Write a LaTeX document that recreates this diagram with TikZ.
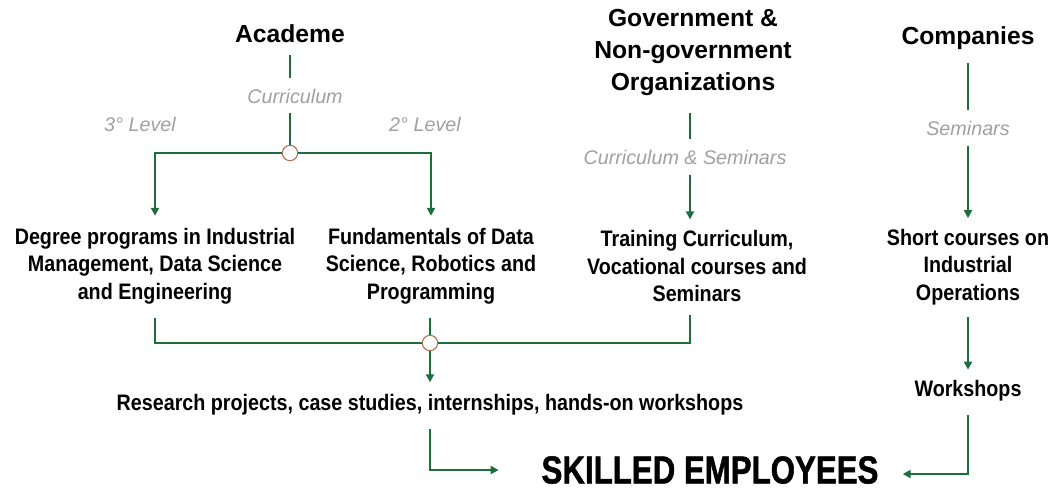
\documentclass[tikz,border=0pt]{standalone}
\usepackage{fontspec}
\setmainfont{Liberation Sans}
\newfontfamily\bodyfont[FakeStretch=0.88]{Liberation Sans}
\newfontfamily\bigfont[FakeStretch=0.8,FakeBold=1.2]{Liberation Sans}
\usetikzlibrary{arrows.meta}

\definecolor{flowgreen}{RGB}{28,110,60}
\definecolor{labelgray}{RGB}{160,160,160}
\definecolor{ringbrown}{RGB}{176,112,84}

\tikzset{
  x=0.75pt, y=-0.75pt,
  head/.style={font=\fontsize{18.5}{24}\selectfont\bfseries, align=center, inner sep=0pt},
  item/.style={font=\bodyfont\fontsize{16.8}{20.6}\selectfont\bfseries, align=center, inner sep=0pt},
  tag/.style={font=\fontsize{14.8}{16}\selectfont\itshape, text=labelgray, inner sep=0pt},
  link/.style={draw=flowgreen, line width=1.8pt},
  arr/.style={link, -{Triangle[length=6pt,width=6pt]}},
  joint/.style={circle, draw=ringbrown, fill=white, line width=0.8pt, minimum size=11.5pt, inner sep=0pt},
}

\begin{document}
\begin{tikzpicture}
\useasboundingbox (0,0) rectangle (1050,490);

% sources
\node[head] (acad) at (290,34) {Academe};
\node[head] (gov) at (693,52) {Government \&\\Non-government\\Organizations};
\node[head] (comp) at (968,38) {Companies};

% channel labels
\node[tag] (curr) at (295,96) {Curriculum};
\node[tag] (lvl3) at (140,124) {3° Level};
\node[tag] (lvl2) at (425,124) {2° Level};
\node[tag] (cursem) at (685,157) {Curriculum \& Seminars};
\node[tag] (sem) at (968,128) {Seminars};

% junctions
\node[joint] (j1) at (290,153) {};
\node[joint] (j2) at (430,343) {};

% programmes
\node[item] (deg) at (155,266) {Degree programs in Industrial\\Management, Data Science\\and Engineering};
\node[item] (fund) at (431,266) {Fundamentals of Data\\Science, Robotics and\\Programming};
\node[item] (train) at (697,266) {Training Curriculum,\\Vocational courses and\\Seminars};
\node[item] (short) at (968,267) {Short courses on\\Industrial\\Operations};
\node[item] (res) at (430,405) {Research projects, case studies, internships, hands-on workshops};
\node[item] (work) at (968,391) {Workshops};
\node[font=\bigfont\fontsize{29.3}{32}\selectfont\bfseries, inner sep=0pt] (skill) at (710,470) {SKILLED EMPLOYEES};

% academe branch
\draw[link, shorten <=9pt, shorten >=8pt] (acad.south) -- (acad.south |- curr.north);
\draw[link, shorten <=7pt] (j1 |- curr.south) -- (j1.north);
\draw[arr, shorten >=9pt] (j1.west) -| (deg.north);
\draw[arr, shorten >=9pt] (j1.east) -| (fund.north);

% government branch
\draw[link, shorten <=13pt, shorten >=8pt] (gov.south -| 690,0) -- (cursem.north -| 690,0);
\draw[arr, shorten <=8pt, shorten >=8pt] (cursem.south -| 690,0) -- (train.north -| 690,0);

% companies branch
\draw[link, shorten <=10pt, shorten >=8pt] (comp.south) -- (sem.north);
\draw[arr, shorten <=8pt, shorten >=8pt] (sem.south) -- (short.north);

% merge into practical training
\draw[link, shorten <=10pt] (deg.south) |- (j2.west);
\draw[link, shorten <=10pt] (train.south -| 690,0) |- (j2.east);
\draw[link, shorten <=10pt] (fund.south -| j2) -- (j2.north);
\draw[arr, shorten >=9pt] (j2.south) -- (res.north);

% towards skilled employees
\draw[arr, shorten <=10pt, shorten >=32pt] (res.south -| j2) |- (skill.west);
\draw[arr, shorten <=9pt, shorten >=8pt] (short.south) -- (work.north);
\draw[arr, shorten <=10pt, shorten >=18pt] (work.south) |- ([yshift=-3pt]skill.east);
\end{tikzpicture}
\end{document}
